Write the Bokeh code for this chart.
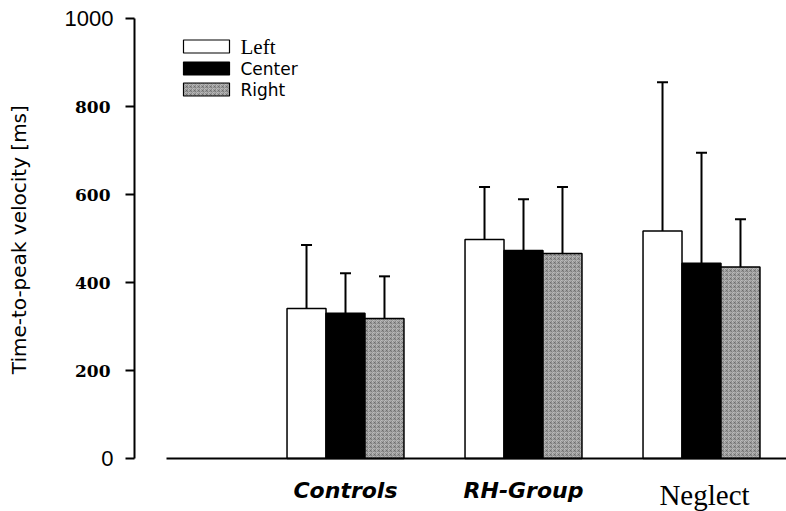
import math
from bokeh.plotting import figure
from bokeh.models import Range1d, FixedTicker, Whisker, TeeHead, ColumnDataSource
from bokeh.core.properties import value
from bokeh.embed import file_html
from bokeh.resources import INLINE

# ---------------- data ----------------
groups = ["Controls", "RH-Group", "Neglect"]
conditions = ["Left", "Center", "Right"]
left_mean = [341, 498, 517]
left_sd = [144, 119, 338]
center_mean = [330, 473, 444]
center_sd = [91, 116, 251]
right_mean = [318, 466, 435]
right_sd = [96, 151, 109]
y_ticks = [0, 200, 400, 600, 800, 1000]
y_title = "Time-to-peak velocity  [ms]"

# ---------------- layout / style ----------------
W, H = 786, 511
group_pos = [1, 2, 3]
bar_w = 0.219
offsets = [-bar_w, 0.0, bar_w]


def xd(sx):  # canvas pixel -> x data
    return 1 + (sx - 345) / 178.0


def yd(sy):  # canvas pixel -> y data
    return (458 - sy) / 0.44


p = figure(width=W, height=H, output_backend="svg", toolbar_location=None,
           x_range=Range1d(xd(0), xd(W)), y_range=Range1d(yd(H), yd(0)),
           min_border_left=0, min_border_right=0, min_border_top=0,
           min_border_bottom=0)
p.outline_line_color = None
p.xgrid.visible = False
p.ygrid.visible = False
p.background_fill_color = "white"
p.border_fill_color = "white"

series = [
    ("Left", left_mean, left_sd, dict(fill_color="white")),
    ("Center", center_mean, center_sd, dict(fill_color="black")),
    ("Right", right_mean, right_sd, dict(fill_color="#bdbdbd", hatch_pattern="criss_cross",
                                         hatch_color="#555555", hatch_scale=4,
                                         hatch_weight=0.6, hatch_alpha=0.7)),
]

for (name, means, sds, style), off in zip(series, offsets):
    xs = [g + off for g in group_pos]
    src = ColumnDataSource(dict(x=xs, top=means,
                                upper=[m + s for m, s in zip(means, sds)]))
    p.vbar(x="x", top="top", bottom=0, width=bar_w, source=src,
           line_color="black", line_width=1.5, **style)
    wh = Whisker(base="x", lower="top", upper="upper", source=src,
                 dimension="height", line_color="black", line_width=2,
                 lower_head=None,
                 upper_head=TeeHead(size=11, line_color="black", line_width=2))
    p.add_layout(wh)

# ---- y axis (drawn at a fixed data location) ----
ya = p.yaxis[0]
ya.fixed_location = xd(134)
ya.bounds = (y_ticks[0], y_ticks[-1])
ya.ticker = FixedTicker(ticks=y_ticks)
ya.major_label_overrides = {y_ticks[0]: " ", y_ticks[-1]: " "}
ya.axis_line_width = 2
ya.axis_line_color = "black"
ya.major_tick_line_width = 2
ya.major_tick_out = 9
ya.major_tick_in = 0
ya.minor_tick_line_color = None
ya.major_label_standoff = 15
ya.major_label_text_font = "DejaVu Serif"
ya.major_label_text_font_style = "bold"
ya.major_label_text_font_size = "17px"
ya.major_label_text_color = "black"

# end tick labels are set in a plain sans face in the reference
end_ticks = [y_ticks[0], y_ticks[-1]]
p.text(x=[xd(113)] * 2, y=end_ticks, text=[str(t) for t in end_ticks],
       text_align="right", text_baseline="middle",
       text_font=value("Liberation Sans"), text_font_size="22px",
       text_color="black")

p.text(x=[xd(18)], y=[yd(236)], text=[y_title], angle=math.pi / 2,
       text_align="center", text_baseline="middle",
       text_font=value("DejaVu Sans"), text_font_size="20px",
       text_color="black")

# ---- x axis ----
xa = p.xaxis[0]
xa.fixed_location = 0
xa.ticker = FixedTicker(ticks=group_pos)
xa.bounds = (xd(166), xd(W))
xa.major_label_overrides = {1: groups[0], 2: groups[1], 3: " "}
xa.axis_line_width = 2
xa.axis_line_color = "black"
xa.major_tick_line_color = None
xa.minor_tick_line_color = None
xa.major_label_standoff = 13
xa.major_label_text_font = "DejaVu Sans"
xa.major_label_text_font_style = "bold italic"
xa.major_label_text_font_size = "22px"
xa.major_label_text_color = "black"

p.text(x=[xd(704)], y=[yd(494)], text=[groups[2]], text_align="center",
       text_baseline="alphabetic", text_font=value("Liberation Serif"),
       text_font_size="29px", text_color="black")

# ---- legend (drawn in place) ----
leg_rows = [(46, series[0][3], "Liberation Serif", "21px"),
            (68, series[1][3], "DejaVu Sans", "17px"),
            (89, series[2][3], "DejaVu Sans", "17px")]
for (cy, style, font, size), name in zip(leg_rows, conditions):
    p.quad(left=xd(183), right=xd(229), top=yd(cy - 6.5), bottom=yd(cy + 6.5),
           line_color="black", line_width=1.2, **style)
    p.text(x=[xd(240)], y=[yd(cy)], text=[name], text_baseline="middle",
           text_align="left", text_font=value(font), text_font_size=size,
           text_color="black")

open("out.html", "w").write(file_html(p, INLINE))
